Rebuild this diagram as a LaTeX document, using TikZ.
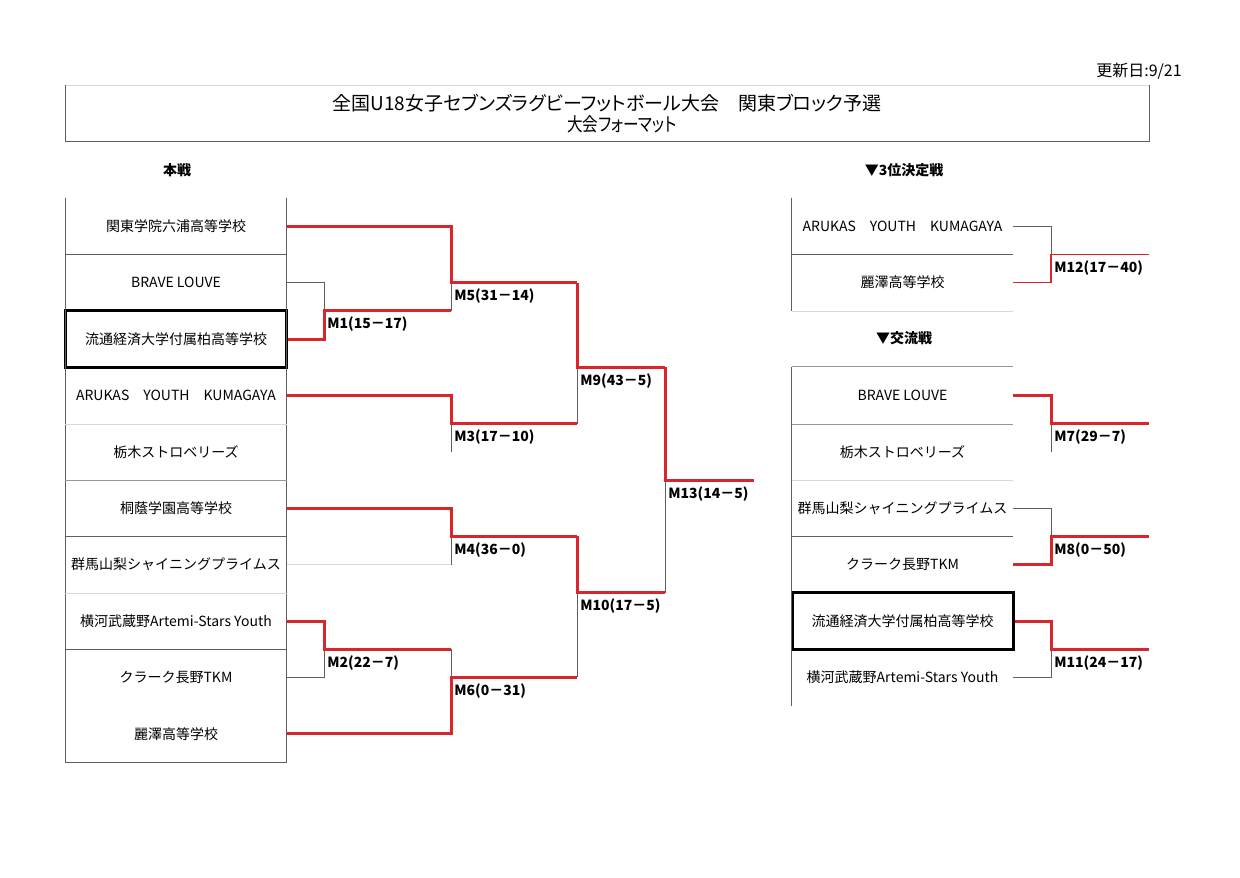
\documentclass[tikz,border=0pt]{standalone}
\usepackage{fontspec}
\setmainfont{Noto Sans CJK JP}
\newfontfamily\titlefont{Noto Sans CJK JP}[RawFeature=+palt]
\definecolor{rugbyred}{RGB}{218, 37, 45}
\definecolor{framegray}{RGB}{95, 95, 95}
\definecolor{rulegray}{RGB}{150, 150, 150}
\definecolor{palegray}{RGB}{215, 215, 215}
\tikzset{
  team/.style     ={minimum width=110.5pt, minimum height=28.2pt, inner sep=0pt, font=\fontsize{7}{8}\selectfont},
  pick/.style     ={team, draw=black, line width=1.5pt},
  win/.style      ={rugbyred, line width=1.5pt},
  winthin/.style  ={rugbyred, line width=0.6pt},
  lose/.style     ={framegray, line width=0.45pt},
  losepale/.style ={palegray, line width=0.45pt},
  frame/.style    ={framegray, line width=0.45pt},
  rule/.style     ={rulegray, line width=0.45pt},
  pale/.style     ={palegray, line width=0.45pt},
  score/.style    ={anchor=north west, xshift=1.5pt, yshift=-3pt, inner sep=0pt, font=\fontsize{7}{8}\selectfont\bfseries},
  heading/.style  ={font=\fontsize{7}{8}\selectfont\bfseries},
}
\begin{document}
\begin{tikzpicture}[x=0.5pt, y=-0.5pt]
  \useasboundingbox (0,0) rectangle (1240,877);
  \node[font=\titlefont\fontsize{8}{9}\selectfont]   (updated)  at (1139, 71) {更新日:9/21};
  \node[font=\titlefont\fontsize{9.5}{10}\selectfont] (title)    at ( 607,103) {全国U18女子セブンズラグビーフットボール大会　関東ブロック予選};
  \node[font=\titlefont\fontsize{9.5}{10}\selectfont, xscale=0.82] (subtitle) at ( 622,124) {大会フォーマット};
  \draw[pale]  (  65, 85) -- (1149, 85);
  \draw[frame] (  65, 85) -- (  65,141) -- (1149,141) -- (1149, 85);
  \node[heading] (main)  at ( 177,170) {本戦};
  \node[heading] (third) at ( 904,170) {▼3位決定戦};
  \node[heading] (xchg)  at ( 904,338) {▼交流戦};
  \node[team] (L1)  at (176,226.2) {関東学院六浦高等学校};
  \node[team] (L2)  at (176,282.6) {BRAVE LOUVE};
  \node[pick] (L3)  at (176,339.0) {流通経済大学付属柏高等学校};
  \node[team] (L4)  at (176,395.4) {ARUKAS　YOUTH　KUMAGAYA};
  \node[team] (L5)  at (176,451.8) {栃木ストロベリーズ};
  \node[team] (L6)  at (176,508.2) {桐蔭学園高等学校};
  \node[team] (L7)  at (176,564.6) {群馬山梨シャイニングプライムス};
  \node[team] (L8)  at (176,621.0) {横河武蔵野Artemi-Stars Youth};
  \node[team] (L9)  at (176,677.4) {クラーク長野TKM};
  \node[team] (L10) at (176,733.8) {麗澤高等学校};
  \node[team] (R1)  at (902.5,226.2) {ARUKAS　YOUTH　KUMAGAYA};
  \node[team] (R2)  at (902.5,282.6) {麗澤高等学校};
  \node[team] (R3)  at (902.5,395.4) {BRAVE LOUVE};
  \node[team] (R4)  at (902.5,451.8) {栃木ストロベリーズ};
  \node[team] (R5)  at (902.5,508.2) {群馬山梨シャイニングプライムス};
  \node[team] (R6)  at (902.5,564.6) {クラーク長野TKM};
  \node[pick] (R7)  at (902.5,621.0) {流通経済大学付属柏高等学校};
  \node[team] (R8)  at (902.5,677.4) {横河武蔵野Artemi-Stars Youth};
  \draw[frame] (L1.north west) -- (L10.south west);
  \draw[frame] (L1.north east) -- (L10.south east);
  \draw[frame] (L1.south west) -- (L1.south east);
  \draw[pale]  (L4.south west) -- (L4.south east);
  \draw[rule]  (L5.south west) -- (L5.south east);
  \draw[frame] (L6.south west) -- (L6.south east);
  \draw[pale]  (L7.south west) -- (L7.south east);
  \draw[frame] (L8.south west) -- (L8.south east);
  \draw[frame] (L10.south west) -- (L10.south east);
  \draw[frame] (R1.north west) -- (R2.south west);
  \draw[frame] (R1.south west) -- (R1.south east);
  \draw[pale]  (R2.south west) -- (R2.south east);
  \draw[frame] (R3.north west) -- (R8.south west);
  \draw[rule]  (R3.north west) -- (R3.north east);
  \draw[rule]  (R3.south west) -- (R3.south east);
  \draw[pale]  (R4.south west) -- (R4.south east);
  \draw[frame] (R5.south west) -- (R5.south east);
  \coordinate (m1)    at ( 324,310.8);
  \coordinate (m2)    at ( 324,649.2);
  \coordinate (m3)    at ( 451,423.6);
  \coordinate (m4)    at ( 451,536.4);
  \coordinate (m5)    at ( 451,282.6);
  \coordinate (m6)    at ( 451,677.4);
  \coordinate (m9)    at ( 577,367.2);
  \coordinate (m10)   at ( 577,592.8);
  \coordinate (m13)   at ( 665,480.0);
  \coordinate (champ) at ( 754,480.0);
  \coordinate (m12)   at (1051,254.4);
  \coordinate (m7)    at (1051,423.6);
  \coordinate (m8)    at (1051,536.4);
  \coordinate (m11)   at (1051,649.2);
  \coordinate (rend)  at (1149,480.0);
  \draw[lose]     (L2.east) -| (m1);
  \draw[win]      (L3.east) -| (m1) -- (m1 -| m5);
  \draw[lose]     (m1 -| m5) -- (m5);
  \draw[win]      (L1.east) -| (m5) -- (m5 -| m9);
  \draw[lose]     (m3) -- (m3 |- L5.east);
  \draw[win]      (L4.east) -| (m3) -- (m3 -| m9);
  \draw[losepale] (L7.east) -- (L7.east -| m4);
  \draw[lose]     (L7.east -| m4) -- (m4);
  \draw[win]      (L6.east) -| (m4) -- (m4 -| m10);
  \draw[lose]     (L9.east) -| (m2);
  \draw[win]      (L8.east) -| (m2) -- (m2 -| m6);
  \draw[lose]     (m2 -| m6) -- (m6);
  \draw[win]      (L10.east) -| (m6) -- (m6 -| m10);
  \draw[lose]     (m3 -| m9) -- (m9);
  \draw[win]      (m5 -| m9) -- (m9) -- (m9 -| m13);
  \draw[lose]     (m6 -| m10) -- (m10);
  \draw[win]      (m4 -| m10) -- (m10) -- (m10 -| m13);
  \draw[lose]     (m10 -| m13) -- (m13);
  \draw[win]      (m9 -| m13) -- (m13) -- (champ);
  \draw[lose]     (R1.east) -| (m12);
  \draw[winthin]  (R2.east) -| (m12) -- (m12 -| rend);
  \draw[lose]     (m7) -- (m7 |- R4.east);
  \draw[win]      (R3.east) -| (m7) -- (m7 -| rend);
  \draw[lose]     (R5.east) -| (m8);
  \draw[win]      (R6.east) -| (m8) -- (m8 -| rend);
  \draw[lose]     (R8.east) -| (m11);
  \draw[win]      (R7.east) -| (m11) -- (m11 -| rend);
  \node[score] (s1)  at (m1)  {M1(15－17)};
  \node[score] (s2)  at (m2)  {M2(22－7)};
  \node[score] (s3)  at (m3)  {M3(17－10)};
  \node[score] (s4)  at (m4)  {M4(36－0)};
  \node[score] (s5)  at (m5)  {M5(31－14)};
  \node[score] (s6)  at (m6)  {M6(0－31)};
  \node[score] (s9)  at (m9)  {M9(43－5)};
  \node[score] (s10) at (m10) {M10(17－5)};
  \node[score] (s13) at (m13) {M13(14－5)};
  \node[score] (s12) at (m12) {M12(17－40)};
  \node[score] (s7)  at (m7)  {M7(29－7)};
  \node[score] (s8)  at (m8)  {M8(0－50)};
  \node[score] (s11) at (m11) {M11(24－17)};
\end{tikzpicture}
\end{document}
